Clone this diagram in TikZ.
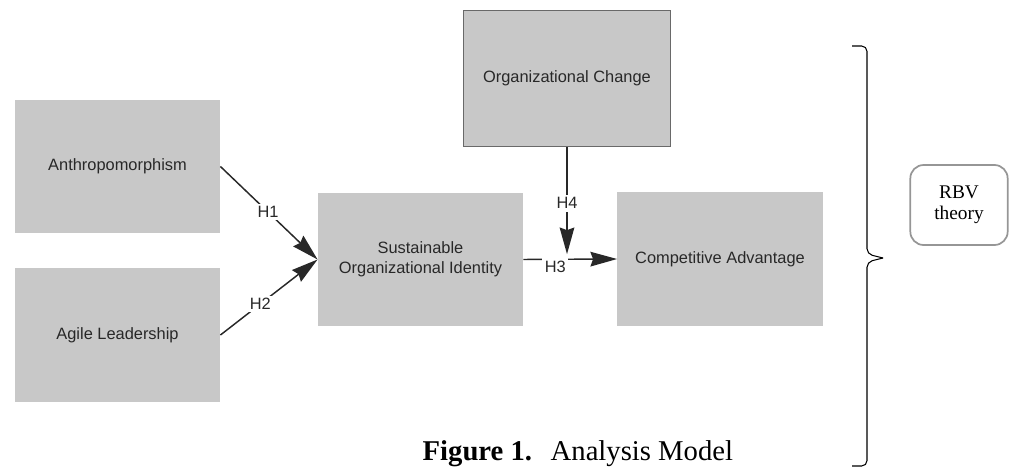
\documentclass[tikz,border=0pt]{standalone}
\usepackage{fontspec}
\setmainfont{Liberation Serif}
\newfontfamily\arialfont{Liberation Sans}
\usetikzlibrary{arrows.meta}

\definecolor{boxgray}{RGB}{200,200,200}
\definecolor{boxtext}{RGB}{40,40,40}
\definecolor{ocborder}{RGB}{105,105,105}
\definecolor{rbvborder}{RGB}{150,150,150}

\begin{document}
\begin{tikzpicture}[x=0.75pt,y=-0.75pt,
	varbox/.style={fill=boxgray, text=boxtext, minimum width=154pt, minimum height=100pt,
		align=center, font=\arialfont\fontsize{12.3}{15}\selectfont},
	hyparrow/.style={draw=boxtext, line width=1.1pt, -{Stealth[length=20pt,width=11pt,inset=2pt]}},
	hyplabel/.style={fill=white, text=boxtext, inner sep=2pt, font=\arialfont\fontsize{12.3}{14}\selectfont}]

	\clip (0,0) rectangle (1010,468);

	% variables
	\node [varbox] (anthro) at (117.5,166.5) {Anthropomorphism};
	\node [varbox] (agile) at (117.5,335) {Agile Leadership};
	\node [varbox] (soi) at (420.5,259.5) {Sustainable\\Organizational Identity};
	\node [varbox, draw=ocborder, line width=1pt, minimum width=155pt, minimum height=102pt] (orgchange) at (567,78.5) {Organizational Change};
	\node [varbox] (compadv) at (720,259) {Competitive Advantage};

	% hypotheses
	\draw [hyparrow] (anthro.east) -- node[hyplabel, pos=0.49] {H1} (soi.west);
	\draw [hyparrow] (agile.east) -- node[hyplabel, pos=0.41] {H2} (soi.west);
	\draw [hyparrow] (soi.east) -- node[hyplabel, pos=0.34, yshift=-6pt, minimum height=18pt] {H3} (compadv.west);
	\draw [hyparrow, shorten >=4pt] (orgchange.south) -- node[hyplabel, pos=0.5] {H4} (orgchange.south |- soi.east);

	% theory brace
	\draw [line width=0.8pt, rounded corners=4pt] (852,46) -- (867,46) -- (867,254) -- (883,258);
	\draw [line width=0.8pt, rounded corners=4pt] (883,258) -- (867,262) -- (867,466) -- (852,466);
	\node [draw=rbvborder, line width=1.3pt, rounded corners=10pt, minimum width=73pt, minimum height=60pt,
		align=center, font=\fontsize{14.5}{15.5}\selectfont] (rbv) at (959,205) {RBV\\theory};

	\node [anchor=base west, font=\fontsize{21.5}{24}\selectfont] (caption) at (418,460) {\textbf{Figure 1.}\hspace{14pt}Analysis Model};
\end{tikzpicture}
\end{document}
